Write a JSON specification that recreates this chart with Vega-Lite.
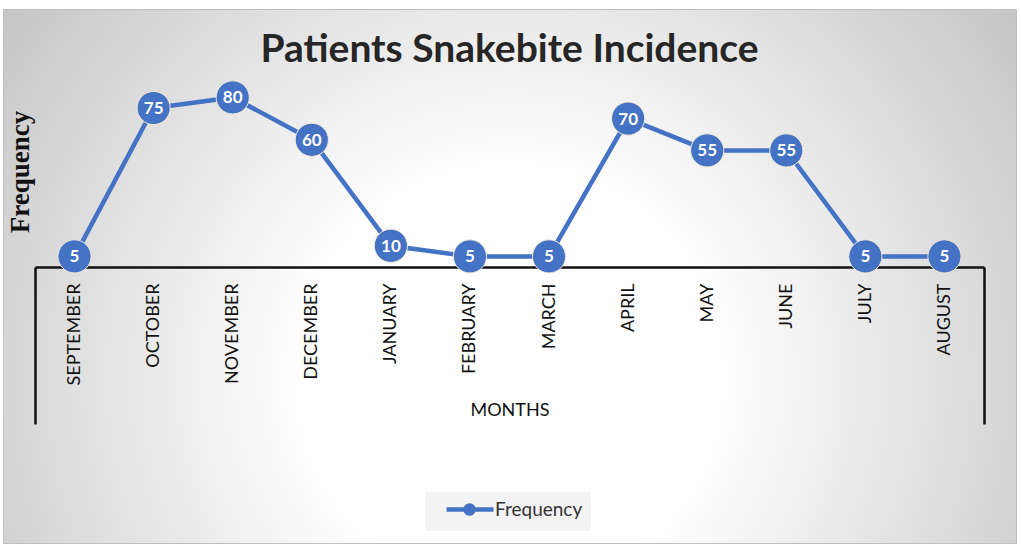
{
  "$schema": "https://vega.github.io/schema/vega-lite/v6.json",
  "width": 1013,
  "height": 534,
  "padding": {"left": 3, "top": 9, "right": 5, "bottom": 8},
  "autosize": {"type": "none"},
  "background": "white",
  "view": {
    "fill": {"expr": "{gradient: 'radial', x1: 0.5, y1: 0.6, r1: 0, x2: 0.5, y2: 0.6, r2: 0.64, stops: [{offset: 0, color: '#ffffff'}, {offset: 0.32, color: '#ffffff'}, {offset: 1, color: '#c2c2c2'}]}"},
    "stroke": "#bfbfbf",
    "strokeWidth": 1
  },
  "title": {
    "text": "Patients Snakebite Incidence",
    "font": "Lato",
    "fontSize": 39,
    "fontWeight": "bold",
    "color": "#262626",
    "anchor": "middle",
    "baseline": "alphabetic",
    "offset": -92
  },
  "data": {
    "values": [
      {"month": "SEPTEMBER", "frequency": 5},
      {"month": "OCTOBER", "frequency": 75},
      {"month": "NOVEMBER", "frequency": 80},
      {"month": "DECEMBER", "frequency": 60},
      {"month": "JANUARY", "frequency": 10},
      {"month": "FEBRUARY", "frequency": 5},
      {"month": "MARCH", "frequency": 5},
      {"month": "APRIL", "frequency": 70},
      {"month": "MAY", "frequency": 55},
      {"month": "JUNE", "frequency": 55},
      {"month": "JULY", "frequency": 5},
      {"month": "AUGUST", "frequency": 5}
    ]
  },
  "encoding": {
    "x": {
      "field": "month",
      "type": "nominal",
      "sort": null,
      "scale": {"type": "band", "range": [32, 981], "paddingInner": 0, "paddingOuter": 0},
      "axis": {
        "orient": "bottom",
        "offset": -276,
        "grid": false,
        "tickBand": "extent",
        "tickSize": 157,
        "tickWidth": 2.5,
        "tickColor": "#111111",
        "tickOpacity": {"condition": {"test": "datum.index === 1 || datum.index < 0", "value": 1}, "value": 0},
        "domainColor": "#111111",
        "domainWidth": 2.5,
        "labelAngle": -90,
        "labelPadding": -141,
        "labelFont": "Lato",
        "labelFontSize": 18,
        "labelColor": "#111111",
        "title": "MONTHS",
        "titleFont": "Lato",
        "titleFontSize": 18,
        "titleFontWeight": "normal",
        "titleColor": "#111111",
        "titleY": 143,
        "titleBaseline": "middle"
      }
    },
    "y": {
      "field": "frequency",
      "type": "quantitative",
      "scale": {"domain": [-130.2, 121.7], "nice": false, "zero": false},
      "axis": {
        "orient": "left",
        "labels": false,
        "ticks": false,
        "domain": false,
        "grid": false,
        "title": "Frequency",
        "titleFont": "Liberation Serif",
        "titleFontSize": 27,
        "titleFontWeight": "bold",
        "titleColor": "#111111",
        "titleAngle": -90,
        "titleAlign": "center",
        "titleBaseline": "alphabetic",
        "titleX": 25.5,
        "titleY": 162.5
      }
    },
    "color": {
      "datum": "Frequency",
      "scale": {"range": ["#4472C4"]},
      "legend": {
        "orient": "none",
        "legendX": 422,
        "legendY": 483,
        "title": null,
        "direction": "horizontal",
        "symbolType": "M0.67,0L8.5,0M5.17,0A0.67,0.67,0,1,1,3.83,0A0.67,0.67,0,1,1,5.17,0Z",
        "symbolSize": 144,
        "symbolStrokeWidth": 4.5,
        "symbolFillColor": "#4472C4",
        "symbolStrokeColor": "#4472C4",
        "symbolOpacity": 1,
        "labelFont": "Lato",
        "labelFontSize": 19,
        "labelColor": "#333333",
        "labelOffset": 43,
        "padding": 8,
        "fillColor": "#f4f4f4"
      }
    }
  },
  "layer": [
    {"mark": {"type": "line", "strokeWidth": 4.5}},
    {"mark": {"type": "point", "filled": true, "size": 1100, "opacity": 1, "stroke": "#f3ead8", "strokeWidth": 1}},
    {
      "mark": {"type": "text", "fontSize": 17, "fontWeight": "bold", "font": "Lato", "baseline": "middle", "align": "center", "dy": 1},
      "encoding": {
        "text": {"field": "frequency", "type": "quantitative"},
        "color": {"value": "white"}
      }
    }
  ]
}
